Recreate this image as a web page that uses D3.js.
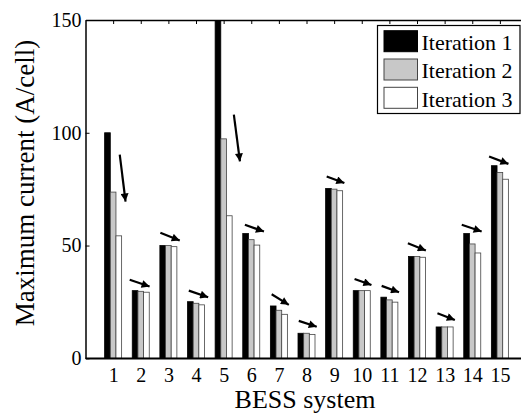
<!DOCTYPE html>
<html>
  <head>
    <script src="https://d3js.org/d3.v7.min.js"></script>
    <style>
      body { margin: 0; background: #fff; }
      text { font-family: "Liberation Serif", "Times New Roman", serif; fill: #000; }
    </style>
  </head>
  <body>
    <svg width="521" height="413"></svg>
    <script>
      // BESS system numbers
      const categories = [1, 2, 3, 4, 5, 6, 7, 8, 9, 10, 11, 12, 13, 14, 15];
      const seriesNames = ["Iteration 1", "Iteration 2", "Iteration 3"];
      // Maximum current (A/cell)
      const iter1 = [100, 30, 50, 25.1, 160, 55.3, 23.2, 11.1, 75.3, 30, 27.1, 45.1, 13.9, 55.3, 85.4];
      const iter2 = [73.7, 29.7, 50, 24.4, 97.3, 52.6, 21.3, 11.1, 75, 30, 25.9, 45.1, 13.9, 50.7, 82.4];
      const iter3 = [54.3, 29.3, 49.5, 23.7, 63.2, 50.2, 19.5, 10.6, 74.3, 30, 24.9, 44.8, 13.9, 46.7, 79.4];
      const yTicks = [0, 50, 100, 150];

      // trend arrows: x offsets in category units, y in data units
      const arrowX0 = [0.24, -0.40, -0.29, -0.26, 0.37, -0.23, -0.26, -0.28, -0.27, -0.26, -0.28, -0.33, -0.26, -0.38, -0.39];
      const arrowX1 = [0.45, 0.32, 0.41, 0.44, 0.59, 0.46, 0.36, 0.37, 0.37, 0.35, 0.35, 0.32, 0.37, 0.34, 0.31];
      const arrowY0 = [90.3, 34.8, 55.7, 30.0, 108, 59.2, 28.4, 16.6, 80.6, 35.2, 32.1, 51.0, 20.0, 59.2, 89.5];
      const arrowY1 = [69.5, 31.8, 52.2, 27.1, 87.3, 56.2, 23.7, 14.0, 77.7, 32.5, 29.3, 47.8, 17.0, 56.2, 86.2];

      const fills = ["#000000", "#c8c8c8", "#ffffff"];
      const strokes = ["#000000", "#444444", "#444444"];

      const plotLeft = 85.5, plotRight = 527.5, plotTop = 20, plotBottom = 358.3;

      const svg = d3.select("svg");

      const x = d3.scaleLinear().domain([0, 16]).range([plotLeft, plotRight]);
      const y = d3.scaleLinear().domain([0, 150]).range([plotBottom, plotTop]);
      const inner = d3.scaleBand().domain([0, 1, 2]).range([-8.5, 8.5]);

      const rows = categories.map((c, i) => ({ c, i, vals: [iter1[i], iter2[i], iter3[i]] }));

      // axes (ticks pointing inward, drawn under bars)
      svg.append("g")
        .attr("transform", `translate(0,${plotBottom})`)
        .call(d3.axisBottom(x).tickValues(categories).tickSize(-4).tickSizeOuter(0).tickPadding(9.5))
        .call(g => g.selectAll("text").attr("font-size", 20).style("font-family", "Liberation Serif"));

      svg.append("g")
        .attr("transform", `translate(0,${plotTop})`)
        .call(d3.axisTop(x).tickValues(categories).tickSize(-4).tickSizeOuter(0).tickFormat(""));

      svg.append("g")
        .attr("transform", `translate(${plotLeft},0)`)
        .call(d3.axisLeft(y).tickValues(yTicks).tickSize(-4).tickSizeOuter(0).tickPadding(4))
        .call(g => g.selectAll("text").attr("font-size", 20).style("font-family", "Liberation Serif"));

      svg.append("g")
        .attr("transform", `translate(${plotRight},0)`)
        .call(d3.axisRight(y).tickValues(yTicks).tickSize(-5).tickSizeOuter(0).tickFormat(""));

      svg.selectAll(".domain").attr("stroke", "#000").attr("stroke-width", 1.5);
      svg.selectAll(".tick line").attr("stroke", "#000").attr("stroke-width", 1);

      svg.append("clipPath").attr("id", "plot")
        .append("rect").attr("x", plotLeft).attr("y", plotTop)
        .attr("width", plotRight - plotLeft).attr("height", plotBottom - plotTop);

      // bars
      const groups = svg.append("g").attr("clip-path", "url(#plot)")
        .selectAll("g")
        .data(rows)
        .join("g")
        .attr("transform", d => `translate(${x(d.c)},0)`);

      groups.selectAll("rect")
        .data(d => d.vals.map((v, k) => ({ v, k })))
        .join("rect")
        .attr("x", d => inner(d.k))
        .attr("y", d => y(d.v))
        .attr("width", inner.bandwidth())
        .attr("height", d => y(0) - y(d.v))
        .attr("fill", d => fills[d.k])
        .attr("stroke", d => strokes[d.k])
        .attr("stroke-width", 0.8);

      // redraw bottom axis line over bars
      svg.append("line")
        .attr("x1", plotLeft).attr("x2", plotRight)
        .attr("y1", plotBottom).attr("y2", plotBottom)
        .attr("stroke", "#000").attr("stroke-width", 1.5);

      // arrows
      svg.append("defs").append("marker")
        .attr("id", "head")
        .attr("viewBox", "0 0 10 10")
        .attr("refX", 10).attr("refY", 5)
        .attr("markerUnits", "userSpaceOnUse")
        .attr("markerWidth", 9).attr("markerHeight", 8)
        .attr("orient", "auto")
        .append("path").attr("d", "M0,0L10,5L0,10z").attr("fill", "#000");

      svg.append("g")
        .selectAll("line")
        .data(rows)
        .join("line")
        .attr("x1", d => x(d.c + arrowX0[d.i]))
        .attr("y1", d => y(arrowY0[d.i]))
        .attr("x2", d => x(d.c + arrowX1[d.i]))
        .attr("y2", d => y(arrowY1[d.i]))
        .attr("stroke", "#000")
        .attr("stroke-width", 2.2)
        .attr("marker-end", "url(#head)");

      // legend
      const legend = svg.append("g");
      legend.append("rect")
        .attr("x", 377.5).attr("y", 25.5)
        .attr("width", 142.5).attr("height", 88)
        .attr("fill", "#fff").attr("stroke", "#000").attr("stroke-width", 1.2);

      const items = legend.selectAll("g.item")
        .data(seriesNames)
        .join("g")
        .attr("class", "item")
        .attr("transform", (d, k) => `translate(0,${k * 28.3})`);

      items.append("rect")
        .attr("x", 384).attr("y", 30.7)
        .attr("width", 33.5).attr("height", 21)
        .attr("fill", (d, k) => fills[k])
        .attr("stroke", (d, k) => strokes[k])
        .attr("stroke-width", 1);

      items.append("text")
        .attr("x", 421.5).attr("y", 50)
        .attr("font-size", 22)
        .text(d => d);

      // axis titles
      svg.append("text")
        .attr("x", 305).attr("y", 408)
        .attr("text-anchor", "middle")
        .attr("font-size", 26)
        .text("BESS system");

      svg.append("text")
        .attr("transform", "translate(34,183) rotate(-90)")
        .attr("text-anchor", "middle")
        .attr("font-size", 27)
        .text("Maximum current (A/cell)");
    </script>
  </body>
</html>
